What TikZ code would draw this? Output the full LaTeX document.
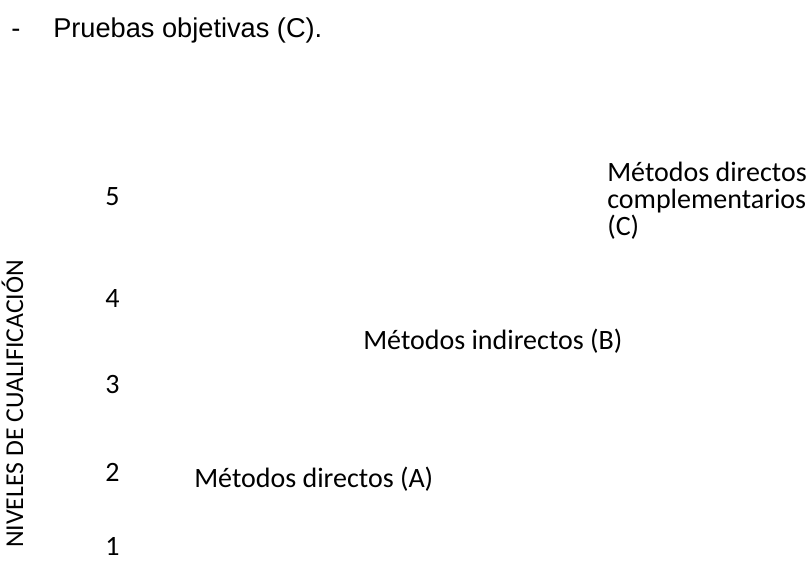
\documentclass[tikz,border=0pt]{standalone}
\usepackage{fontspec}
\setmainfont{Carlito}
\newfontfamily\arialfont{Liberation Sans}
\tikzset{
    nivel/.style={anchor=base west, inner sep=0pt, font=\fontsize{21}{24}\selectfont},
    metodo/.style={anchor=base west, inner sep=0pt, font=\fontsize{21}{20}\selectfont, align=left},
    eje/.style={anchor=base west, inner sep=0pt, rotate=90, font=\fontsize{19.3}{22}\selectfont},
    titulo/.style={anchor=base west, inner sep=0pt, font=\arialfont\fontsize{20.4}{24}\selectfont}
}
\begin{document}
\begin{tikzpicture}[x=0.75pt, y=-0.75pt]
    \useasboundingbox (0,0) rectangle (809,562);
    % encabezado
    \node[titulo] (guion) at (11,37) {-};
    \node[titulo] (pruebas) at (53,37) {Pruebas objetivas (C).};
    % eje vertical
    \node[eje] (ejeniveles) at (23,548) {NIVELES DE CUALIFICACIÓN};
    \foreach \n/\y in {5/205, 4/307, 3/393, 2/481, 1/555}
        \node[nivel] (nivel-\n) at (105,\y) {\n};
    % metodos
    \node[metodo] (metodoA) at (194,487) {Métodos directos (A)};
    \node[metodo] (metodoB) at (363,349) {Métodos indirectos (B)};
    \node[metodo] (metodoC) at (607,235) {Métodos directos\\complementarios\\(C)};
\end{tikzpicture}
\end{document}
